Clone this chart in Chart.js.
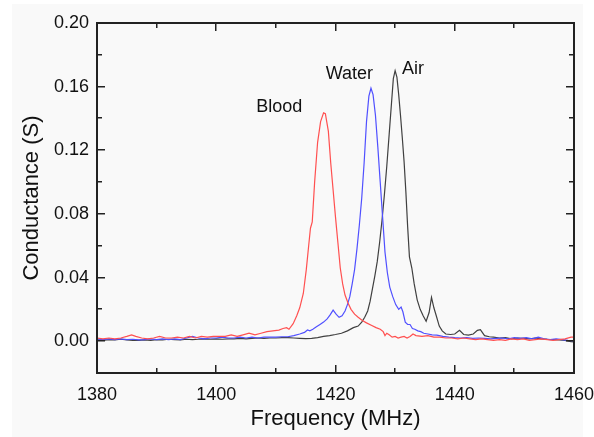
<!DOCTYPE html>
<html lang="en">
<head>
    <meta charset="UTF-8">
    <title>Conductance</title>
    <style>
        html, body { margin: 0; padding: 0; background: #ffffff; }
        canvas { display: block; }
    </style>
</head>
<body>
<canvas id="myChart" width="594" height="437"></canvas>

<script src="https://cdn.jsdelivr.net/npm/chart.js"></script>
<script>
    // Blood (red)
    const bloodFreq = [1380, 1381, 1382, 1383, 1384, 1385, 1385.8, 1386.5, 1387.5, 1388.5, 1389.5, 1390.5, 1391.5, 1392.5, 1393.5, 1394.5, 1395.5, 1396.5, 1397.5, 1398.5, 1399.5, 1400.5, 1401.5, 1402.5, 1403.5, 1404.5, 1405.5, 1406.5, 1407.5, 1408.5, 1409.5, 1410.5, 1411.2, 1411.8, 1412.2, 1412.9, 1413.5, 1414.0, 1414.6, 1415.1, 1415.5, 1415.8, 1416.1, 1416.5, 1417.0, 1417.5, 1418.0, 1418.3, 1418.8, 1419.2, 1419.6, 1420.0, 1420.4, 1420.8, 1421.2, 1421.6, 1422.1, 1422.6, 1423.2, 1423.8, 1424.5, 1425.2, 1426.0, 1426.8, 1427.5, 1428.0, 1428.3, 1428.6, 1429.0, 1429.5, 1430.0, 1430.5, 1431.0, 1431.5, 1432, 1432.5, 1433.0, 1433.5, 1434.5, 1435.5, 1436.5, 1437.5, 1438.5, 1439.5, 1440.5, 1441.5, 1442.5, 1443.5, 1444.5, 1445.5, 1446.5, 1447.5, 1448.5, 1449.5, 1450.5, 1451.5, 1452.5, 1453.5, 1454.5, 1455.5, 1456.5, 1457.5, 1458.5, 1459.5, 1460];
    const bloodG = [0.002, 0.0015, 0.002, 0.0015, 0.002, 0.003, 0.004, 0.003, 0.002, 0.0015, 0.002, 0.003, 0.002, 0.002, 0.0025, 0.002, 0.003, 0.002, 0.003, 0.0025, 0.003, 0.003, 0.003, 0.004, 0.003, 0.004, 0.005, 0.004, 0.005, 0.006, 0.0065, 0.007, 0.008, 0.0085, 0.0075, 0.011, 0.016, 0.021, 0.030, 0.045, 0.060, 0.071, 0.075, 0.100, 0.125, 0.138, 0.1435, 0.143, 0.132, 0.112, 0.095, 0.078, 0.062, 0.046, 0.036, 0.029, 0.024, 0.020, 0.017, 0.015, 0.013, 0.0115, 0.010, 0.0085, 0.0075, 0.006, 0.0035, 0.005, 0.004, 0.0025, 0.003, 0.002, 0.0025, 0.003, 0.002, 0.003, 0.0045, 0.0035, 0.003, 0.0035, 0.0025, 0.0025, 0.002, 0.002, 0.0015, 0.002, 0.0015, 0.001, 0.0015, 0.001, 0.0005, 0.001, 0.0005, 0.0015, 0.001, 0.0015, 0.0005, 0.001, 0.0015, 0.001, 0.0005, 0.001, 0.0015, 0.0025, 0.0025];

    // Water (blue)
    const waterFreq = [1380, 1381, 1382, 1383, 1384, 1385, 1386, 1387, 1388, 1389, 1390, 1391, 1392, 1393, 1394, 1395, 1396, 1397, 1398, 1399, 1400, 1401, 1402, 1403, 1404, 1405, 1406, 1407, 1408, 1409, 1410, 1411, 1412, 1413, 1414, 1414.8, 1415.3, 1415.7, 1416.2, 1416.8, 1417.4, 1418.0, 1418.6, 1419.1, 1419.6, 1420.1, 1420.6, 1421.1, 1421.6, 1422.0, 1422.4, 1422.8, 1423.2, 1423.6, 1424.0, 1424.4, 1424.8, 1425.2, 1425.6, 1425.95, 1426.3, 1426.7, 1427.1, 1427.5, 1427.9, 1428.3, 1428.7, 1429.1, 1429.6, 1430.1, 1430.6, 1431.0, 1431.3, 1431.7, 1432.1, 1432.5, 1432.9, 1433.3, 1433.8, 1434.3, 1434.8, 1435.5, 1436.2, 1437.0, 1438, 1439, 1440, 1441, 1442, 1443, 1444, 1445, 1446, 1447, 1448, 1449, 1450, 1451, 1452, 1453, 1454, 1455, 1456, 1457, 1458, 1459, 1460];
    const waterG = [0.0015, 0.001, 0.0015, 0.001, 0.0015, 0.001, 0.0012, 0.0008, 0.001, 0.0015, 0.001, 0.0015, 0.001, 0.0015, 0.001, 0.002, 0.003, 0.002, 0.0015, 0.002, 0.002, 0.0025, 0.002, 0.002, 0.0025, 0.002, 0.0025, 0.002, 0.0025, 0.0025, 0.0025, 0.0028, 0.0028, 0.0035, 0.0045, 0.0055, 0.007, 0.0065, 0.0075, 0.009, 0.0105, 0.012, 0.014, 0.0165, 0.0195, 0.017, 0.015, 0.016, 0.019, 0.023, 0.028, 0.036, 0.045, 0.058, 0.073, 0.090, 0.112, 0.138, 0.154, 0.159, 0.155, 0.142, 0.122, 0.100, 0.078, 0.056, 0.043, 0.034, 0.028, 0.023, 0.020, 0.0215, 0.0185, 0.012, 0.0105, 0.0105, 0.008, 0.0075, 0.0065, 0.006, 0.005, 0.0045, 0.004, 0.0038, 0.003, 0.0025, 0.0022, 0.002, 0.0022, 0.0018, 0.002, 0.0018, 0.0015, 0.0018, 0.002, 0.0015, 0.0022, 0.0018, 0.0022, 0.0015, 0.0025, 0.0015, 0.001, 0.0015, 0.001, 0.0005, 0.0002];

    // Air (black)
    const airFreq = [1380, 1381, 1382, 1383, 1384, 1385, 1386, 1387, 1388, 1389, 1390, 1391, 1392, 1393, 1394, 1395, 1396, 1397, 1398, 1399, 1400, 1401, 1402, 1403, 1404, 1405, 1406, 1407, 1408, 1409, 1410, 1411, 1412, 1413, 1414, 1415, 1416, 1417, 1418, 1419, 1420, 1421, 1422, 1423, 1423.8, 1424.4, 1424.9, 1425.4, 1425.8, 1426.2, 1426.6, 1427.0, 1427.4, 1427.8, 1428.2, 1428.6, 1429.0, 1429.4, 1429.7, 1430.0, 1430.3, 1430.6, 1430.9, 1431.2, 1431.5, 1431.8, 1432.1, 1432.4, 1432.8, 1433.2, 1433.7, 1434.2, 1434.7, 1435.2, 1435.7, 1436.1, 1436.5, 1436.9, 1437.4, 1437.9, 1438.5, 1439.3, 1440.0, 1440.8, 1441.5, 1442.3, 1443.1, 1443.8, 1444.3, 1445.0, 1445.8, 1446.5, 1447.5, 1448.5, 1449.5, 1450.5, 1451.5, 1452.5, 1453.5, 1454.5, 1455.5, 1456.5, 1457.5, 1458.5, 1459.5, 1460];
    const airG = [0.0008, 0.0005, 0.001, 0.0008, 0.0012, 0.0008, 0.0005, 0.0005, 0.0008, 0.0005, 0.001, 0.0008, 0.0012, 0.001, 0.0008, 0.0012, 0.001, 0.0012, 0.0015, 0.0012, 0.0015, 0.0012, 0.0015, 0.0015, 0.0018, 0.0015, 0.0018, 0.002, 0.0018, 0.002, 0.002, 0.0022, 0.0022, 0.002, 0.0018, 0.0016, 0.0018, 0.0022, 0.003, 0.0035, 0.0042, 0.005, 0.0065, 0.0085, 0.0095, 0.012, 0.015, 0.019, 0.025, 0.033, 0.041, 0.050, 0.062, 0.076, 0.092, 0.110, 0.130, 0.150, 0.165, 0.170, 0.166, 0.155, 0.142, 0.128, 0.113, 0.094, 0.072, 0.053, 0.046, 0.036, 0.026, 0.020, 0.016, 0.0125, 0.018, 0.0275, 0.021, 0.016, 0.0095, 0.0065, 0.0045, 0.0042, 0.0045, 0.0068, 0.0042, 0.0038, 0.0045, 0.0068, 0.0072, 0.0035, 0.0028, 0.0025, 0.002, 0.0022, 0.0015, 0.002, 0.0018, 0.0015, 0.002, 0.0015, 0.0012, 0.001, 0.0008, 0.0005, -0.0003, -0.0005];

    const xTicks = [1380, 1400, 1420, 1440, 1460];
    const yTicks = [0.00, 0.04, 0.08, 0.12, 0.16, 0.20];

    // curve labels: [text, freq, conductance]
    const curveLabels = [
        ['Blood', 1406.7, 0.147],
        ['Water', 1418.35, 0.168],
        ['Air', 1431.15, 0.171],
    ];

    const FONT = "'Liberation Sans', Arial, sans-serif";

    function toPoints(xs, ys) {
        return xs.map((x, i) => ({x: x, y: ys[i]}));
    }

    // light grey backdrop, frame with inward ticks, curve names
    const decorations = {
        id: 'decorations',
        beforeDraw(chart) {
            const ctx = chart.ctx;
            ctx.save();
            ctx.fillStyle = '#f9f9f9';
            ctx.fillRect(12, 4, 571, 433);
            ctx.restore();
        },
        afterDraw(chart) {
            const ctx = chart.ctx;
            const a = chart.chartArea;
            const xs = chart.scales.x;
            const ys = chart.scales.y;
            const L = Math.round(a.left), R = Math.round(a.right);
            const T = Math.round(a.top), B = Math.round(a.bottom);
            ctx.save();
            ctx.globalAlpha = 1;
            ctx.globalCompositeOperation = 'source-over';
            ctx.fillStyle = '#222';
            // frame
            ctx.fillRect(L - 1, T - 1, R - L + 2, 2);
            ctx.fillRect(L - 1, B - 1, R - L + 2, 2);
            ctx.fillRect(L - 1, T - 1, 2, B - T + 2);
            ctx.fillRect(R - 1, T - 1, 2, B - T + 2);
            // ticks, pointing inwards
            for (let v = 1380; v <= 1460; v += 10) {
                const len = v % 20 === 0 ? 8 : 5;
                const px = Math.round(xs.getPixelForValue(v));
                ctx.fillRect(px - 1, B - len, 1.5, len);
                ctx.fillRect(px - 1, T, 1.5, len);
            }
            for (let k = 0; k <= 10; k++) {
                const len = k % 2 === 0 ? 8 : 5;
                const py = Math.round(ys.getPixelForValue(k * 0.02));
                ctx.fillRect(L, py - 1, len, 1.5);
                ctx.fillRect(R - len, py - 1, len, 1.5);
            }

            ctx.fillStyle = '#111';
            ctx.font = '18px ' + FONT;
            ctx.textAlign = 'left';
            ctx.textBaseline = 'middle';
            curveLabels.forEach(([t, fx, fy]) => {
                ctx.fillText(t, xs.getPixelForValue(fx), ys.getPixelForValue(fy));
            });
            ctx.restore();
        }
    };

    function init() {
        let ctx = document.getElementById("myChart").getContext('2d');
        new Chart(ctx, {
            type: 'line',
            data: {
                datasets: [
                    {
                        label: 'Blood',
                        data: toPoints(bloodFreq, bloodG),
                        borderColor: "#ff5050",
                    },
                    {
                        label: 'Water',
                        data: toPoints(waterFreq, waterG),
                        borderColor: "#5050ff",
                    },
                    {
                        label: 'Air',
                        data: toPoints(airFreq, airG),
                        borderColor: "#404040",
                    },
                ],
            },
            options: {
                responsive: false,
                animation: false,
                devicePixelRatio: 1,
                layout: {
                    padding: {top: 23, right: 20, left: 0, bottom: 0}
                },
                elements: {
                    line: {tension: 0, borderWidth: 1.2, fill: false},
                    point: {radius: 0}
                },
                plugins: {
                    legend: {display: false},
                    tooltip: {enabled: false}
                },
                scales: {
                    x: {
                        type: 'linear',
                        min: 1380,
                        max: 1460,
                        afterBuildTicks: s => { s.ticks = xTicks.map(v => ({value: v})); },
                        afterFit: s => { s.height = 64; s.paddingLeft = 0; s.paddingRight = 0; },
                        grid: {display: false, drawTicks: false},
                        border: {display: false},
                        ticks: {
                            padding: 11,
                            color: '#111',
                            font: {family: FONT, size: 18},
                            maxRotation: 0,
                            callback: v => String(v)
                        },
                        title: {
                            display: true,
                            text: 'Frequency (MHz)',
                            color: '#111',
                            font: {family: FONT, size: 22},
                            padding: {top: 0, bottom: 5}
                        }
                    },
                    y: {
                        min: -0.02,
                        max: 0.20,
                        afterBuildTicks: s => { s.ticks = yTicks.map(v => ({value: v})); },
                        afterFit: s => { s.width = 97; s.paddingTop = 0; s.paddingBottom = 0; },
                        grid: {display: false, drawTicks: false},
                        border: {display: false},
                        ticks: {
                            padding: 8,
                            color: '#111',
                            font: {family: FONT, size: 18},
                            callback: v => v.toFixed(2)
                        },
                        title: {
                            display: true,
                            text: 'Conductance (S)',
                            color: '#111',
                            font: {family: FONT, size: 22},
                            padding: {top: 19, bottom: 0}
                        }
                    }
                }
            },
            plugins: [decorations]
        });
    }

    document.addEventListener('DOMContentLoaded', init);
</script>

</body>
</html>
